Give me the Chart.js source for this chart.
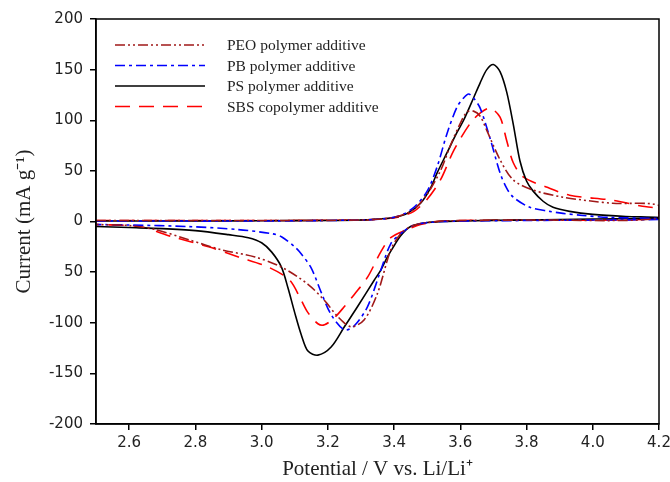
<!DOCTYPE html>
<html lang="en">
<head>
    <meta charset="UTF-8">
    <title>Cyclic voltammograms</title>
    <script src="https://cdn.jsdelivr.net/npm/chart.js"></script>
    <style>
        body { margin: 0; background: #fff; }
        #cvChart { display: block; }
    </style>
</head>
<body>
    <canvas id="cvChart" width="670" height="482"></canvas>

    <script>
        // axis ticks
        const xTicks = [2.6, 2.8, 3.0, 3.2, 3.4, 3.6, 3.8, 4.0, 4.2];
        const yTickValues = [-200, -150, -100, -50, 0, 50, 100, 150, 200];
        const yTickLabels = ['-200', '-150', '-100', '50', '0', '50', '100', '150', '200']; // "50" below zero is as printed

        const seriesLabels = ['PEO polymer additive', 'PB polymer additive', 'PS polymer additive', 'SBS copolymer additive'];

        // anodic sweep 2.5 -> 4.2 V, then cathodic sweep back to 2.5 V
        const peoV = [2.50, 3.00, 3.30, 3.38, 3.42, 3.46, 3.50, 3.54, 3.57, 3.60, 3.62, 3.64, 3.66, 3.68, 3.72, 3.76, 3.82, 3.91, 4.00, 4.06, 4.20,
                      4.20, 3.80, 3.55, 3.48, 3.45, 3.42, 3.39, 3.35, 3.31, 3.27, 3.23, 3.19, 3.14, 3.06, 2.98, 2.88, 2.78, 2.68, 2.60, 2.50];
        const peoI = [1, 1, 1.5, 3, 6, 12, 27, 50, 75, 97, 108, 109, 104, 90, 61, 41, 31, 24, 20, 18, 16,
                      3, 1.5, 0.5, -2, -5, -12, -28, -71, -97, -104, -94, -78, -62, -45, -35, -28, -18, -8, -4, -3];

        const pbV = [2.50, 3.00, 3.30, 3.38, 3.42, 3.46, 3.50, 3.53, 3.56, 3.59, 3.61, 3.625, 3.64, 3.66, 3.69, 3.72, 3.74, 3.76, 3.81, 3.87, 3.91, 3.97, 4.05, 4.20,
                     4.20, 3.80, 3.55, 3.48, 3.45, 3.42, 3.39, 3.36, 3.32, 3.28, 3.25, 3.21, 3.18, 3.15, 3.12, 3.10, 3.06, 3.03, 2.93, 2.78, 2.60, 2.50];
        const pbI = [0.5, 0.5, 1.5, 3, 6, 14, 30, 54, 87, 113, 122, 126, 122, 112, 82, 48, 33, 24, 14, 10, 8, 6, 4, 3,
                     2, 1, 0, -2, -5, -12, -22, -48, -84, -103, -107, -92, -70, -46, -32, -25, -15, -12, -8, -5, -3.5, -3];

        const psV = [2.50, 2.80, 3.00, 3.20, 3.30, 3.35, 3.40, 3.44, 3.48, 3.51, 3.53, 3.56, 3.59, 3.61, 3.64, 3.66, 3.68, 3.70, 3.72, 3.74, 3.76, 3.78, 3.80, 3.82, 3.85, 3.88, 3.93, 4.00, 4.10, 4.20,
                     4.20, 4.00, 3.80, 3.60, 3.50, 3.45, 3.42, 3.40, 3.38, 3.36, 3.34, 3.29, 3.25, 3.21, 3.17, 3.14, 3.12, 3.10, 3.08, 3.06, 3.03, 3.00, 2.96, 2.90, 2.80, 2.70, 2.60, 2.50];
        const psI = [0.5, 0.5, 0.8, 1, 1.5, 2.5, 4, 8, 18, 33, 48, 68, 88, 100, 122, 137, 150, 155, 148, 128, 96, 60, 40, 30, 20, 14, 10, 7, 5, 4,
                     3, 2.5, 1.5, 0.5, -1, -5, -14, -24, -35, -48, -58, -84, -104, -124, -132, -128, -112, -90, -66, -45, -30, -21, -16, -13, -9, -7, -6, -5];

        const sbsV = [2.50, 3.00, 3.30, 3.38, 3.42, 3.46, 3.50, 3.54, 3.58, 3.63, 3.66, 3.69, 3.72, 3.74, 3.76, 3.79, 3.86, 3.93, 4.06, 4.15, 4.20,
                      4.20, 3.80, 3.55, 3.48, 3.44, 3.39, 3.36, 3.32, 3.28, 3.25, 3.22, 3.19, 3.17, 3.14, 3.12, 3.085, 3.02, 2.93, 2.84, 2.73, 2.63, 2.50];
        const sbsI = [1, 1, 1.5, 3, 5, 10, 22, 41, 70, 97, 107, 112, 103, 80, 58, 44, 34, 26, 21, 15, 12,
                      3, 1.5, 0.5, -3, -8, -16, -30, -55, -72, -84, -95, -102, -101, -90, -78, -58, -45, -35, -25, -15, -5, -3];

        function toPoints(vs, is) {
            return vs.map((v, i) => ({ x: v, y: is[i] }));
        }

        // legend drawn inside the plot, with the real dash patterns
        const cvLegend = {
            id: 'cvLegend',
            afterDatasetsDraw(chart) {
                const { ctx, chartArea } = chart;
                ctx.save();
                chart.data.datasets.forEach((ds, i) => {
                    const y = chartArea.top + 26 + i * 20.5;
                    ctx.strokeStyle = ds.borderColor;
                    ctx.lineWidth = 1.6;
                    ctx.setLineDash(ds.borderDash || []);
                    ctx.beginPath();
                    ctx.moveTo(chartArea.left + 19, y);
                    ctx.lineTo(chartArea.left + 109, y);
                    ctx.stroke();
                    ctx.setLineDash([]);
                    ctx.fillStyle = '#222';
                    ctx.font = '15.5px "Liberation Serif"';
                    ctx.textBaseline = 'middle';
                    ctx.fillText(ds.label, chartArea.left + 131, y + 1);
                });
                ctx.restore();
            }
        };

        // closed box round the plot
        const frame = {
            id: 'frame',
            afterDraw(chart) {
                const { ctx, chartArea } = chart;
                ctx.save();
                ctx.strokeStyle = '#000';
                ctx.lineWidth = 1.5;
                ctx.strokeRect(chartArea.left, chartArea.top, chartArea.right - chartArea.left, chartArea.bottom - chartArea.top);
                ctx.restore();
            }
        };

        Chart.defaults.font.family = '"DejaVu Sans", sans-serif';
        Chart.defaults.color = '#222';

        const tickFont = { family: '"DejaVu Sans", sans-serif', size: 15 };
        const titleFont = { family: '"Liberation Serif", serif', size: 21 };

        new Chart(document.getElementById('cvChart'), {
            type: 'scatter',
            data: {
                datasets: [
                    { label: seriesLabels[0], data: toPoints(peoV, peoI), borderColor: '#a01818', borderDash: [10, 3, 2, 3, 2, 3] },
                    { label: seriesLabels[1], data: toPoints(pbV, pbI), borderColor: '#0000ff', borderDash: [10, 4, 3, 4] },
                    { label: seriesLabels[2], data: toPoints(psV, psI), borderColor: '#000000', borderDash: [] },
                    { label: seriesLabels[3], data: toPoints(sbsV, sbsI), borderColor: '#ff0000', borderDash: [15, 9] }
                ].map(ds => Object.assign(ds, {
                    showLine: true,
                    fill: false,
                    borderWidth: 1.6,
                    pointRadius: 0,
                    tension: 0.3
                }))
            },
            options: {
                responsive: false,
                animation: false,
                layout: { padding: { left: 0, right: 11, top: 19, bottom: 0 } },
                plugins: {
                    legend: { display: false },
                    tooltip: { enabled: false }
                },
                scales: {
                    x: {
                        type: 'linear',
                        min: 2.5,
                        max: 4.2,
                        afterBuildTicks: axis => { axis.ticks = xTicks.map(v => ({ value: v })); },
                        afterFit: axis => { axis.height = 58; axis.paddingRight = 0; },
                        ticks: {
                            font: tickFont,
                            padding: 4,
                            maxRotation: 0,
                            callback: v => v.toFixed(1)
                        },
                        grid: { drawOnChartArea: false, drawTicks: true, tickLength: 6, color: '#000', lineWidth: 1.5 },
                        border: { display: true, color: '#000', width: 1.5 },
                        title: { display: true, text: 'Potential / V vs. Li/Li\u207A', font: titleFont, color: '#222', padding: { top: 0, bottom: 0 } }
                    },
                    y: {
                        type: 'linear',
                        min: -200,
                        max: 200,
                        afterBuildTicks: axis => { axis.ticks = yTickValues.map(v => ({ value: v })); },
                        afterFit: axis => { axis.width = 96; },
                        ticks: {
                            font: tickFont,
                            padding: 7,
                            callback: (v, i) => yTickLabels[i]
                        },
                        grid: { drawOnChartArea: false, drawTicks: true, tickLength: 6, color: '#000', lineWidth: 1.5 },
                        border: { display: true, color: '#000', width: 1.5 },
                        title: { display: true, text: 'Current (mA g\u207B\u00B9)', font: titleFont, color: '#222', padding: { top: 12, bottom: 0 } }
                    }
                }
            },
            plugins: [cvLegend, frame]
        });
    </script>
</body>
</html>
